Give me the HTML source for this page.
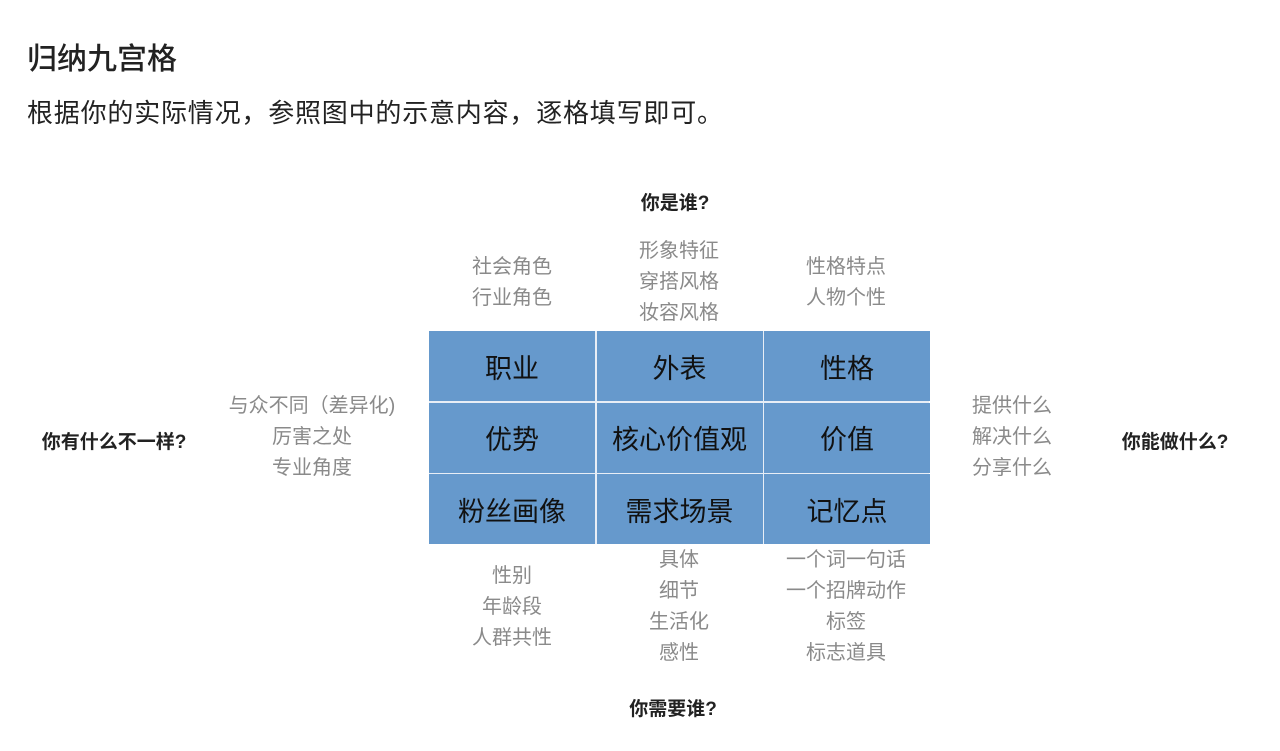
<!DOCTYPE html>
<html><head><meta charset="utf-8"><style>
body{margin:0;width:1280px;height:751px;background:#fff;position:relative;font-family:"Liberation Sans","Noto Sans CJK SC",sans-serif;overflow:hidden}
.a{position:absolute;white-space:nowrap}
.c{position:absolute;text-align:center;color:#8a8a8a;font-size:20px;line-height:31px;width:240px;transform:translateX(-120px)}
.b{position:absolute;text-align:center;color:#222;font-size:19px;font-weight:bold;width:240px;transform:translateX(-120px)}
.g{position:absolute;left:429px;top:331px;width:500px;height:213px;display:grid;grid-template-columns:166px 166px 166px;grid-template-rows:70px 70px 70px;gap:1.5px;background:#e8eef6}
.g div{background:#6699cc;display:flex;align-items:center;justify-content:center;font-size:27px;color:#111}
</style></head><body>
<div class="a" style="left:27px;top:34px;font-size:30px;color:#222;font-weight:500">归纳九宫格</div>
<div class="a" style="left:27px;top:93px;font-size:26px;letter-spacing:0.8px;color:#222">根据你的实际情况，参照图中的示意内容，逐格填写即可。</div>
<div class="b" style="left:675px;top:188px">你是谁?</div>
<div class="b" style="left:673px;top:694px">你需要谁?</div>
<div class="b" style="left:114px;top:427px">你有什么不一样?</div>
<div class="b" style="left:1175px;top:427px">你能做什么?</div>
<div class="c" style="left:512px;top:252px">社会角色<br>行业角色</div>
<div class="c" style="left:679px;top:236px">形象特征<br>穿搭风格<br>妆容风格</div>
<div class="c" style="left:846px;top:252px">性格特点<br>人物个性</div>
<div class="c" style="left:312px;top:391px">与众不同（差异化)<br>厉害之处<br>专业角度</div>
<div class="c" style="left:1012px;top:391px">提供什么<br>解决什么<br>分享什么</div>
<div class="c" style="left:512px;top:561px">性别<br>年龄段<br>人群共性</div>
<div class="c" style="left:679px;top:545px">具体<br>细节<br>生活化<br>感性</div>
<div class="c" style="left:846px;top:545px">一个词一句话<br>一个招牌动作<br>标签<br>标志道具</div>
<div class="g">
<div>职业</div><div>外表</div><div>性格</div>
<div>优势</div><div>核心价值观</div><div>价值</div>
<div>粉丝画像</div><div>需求场景</div><div>记忆点</div>
</div>
</body></html>
